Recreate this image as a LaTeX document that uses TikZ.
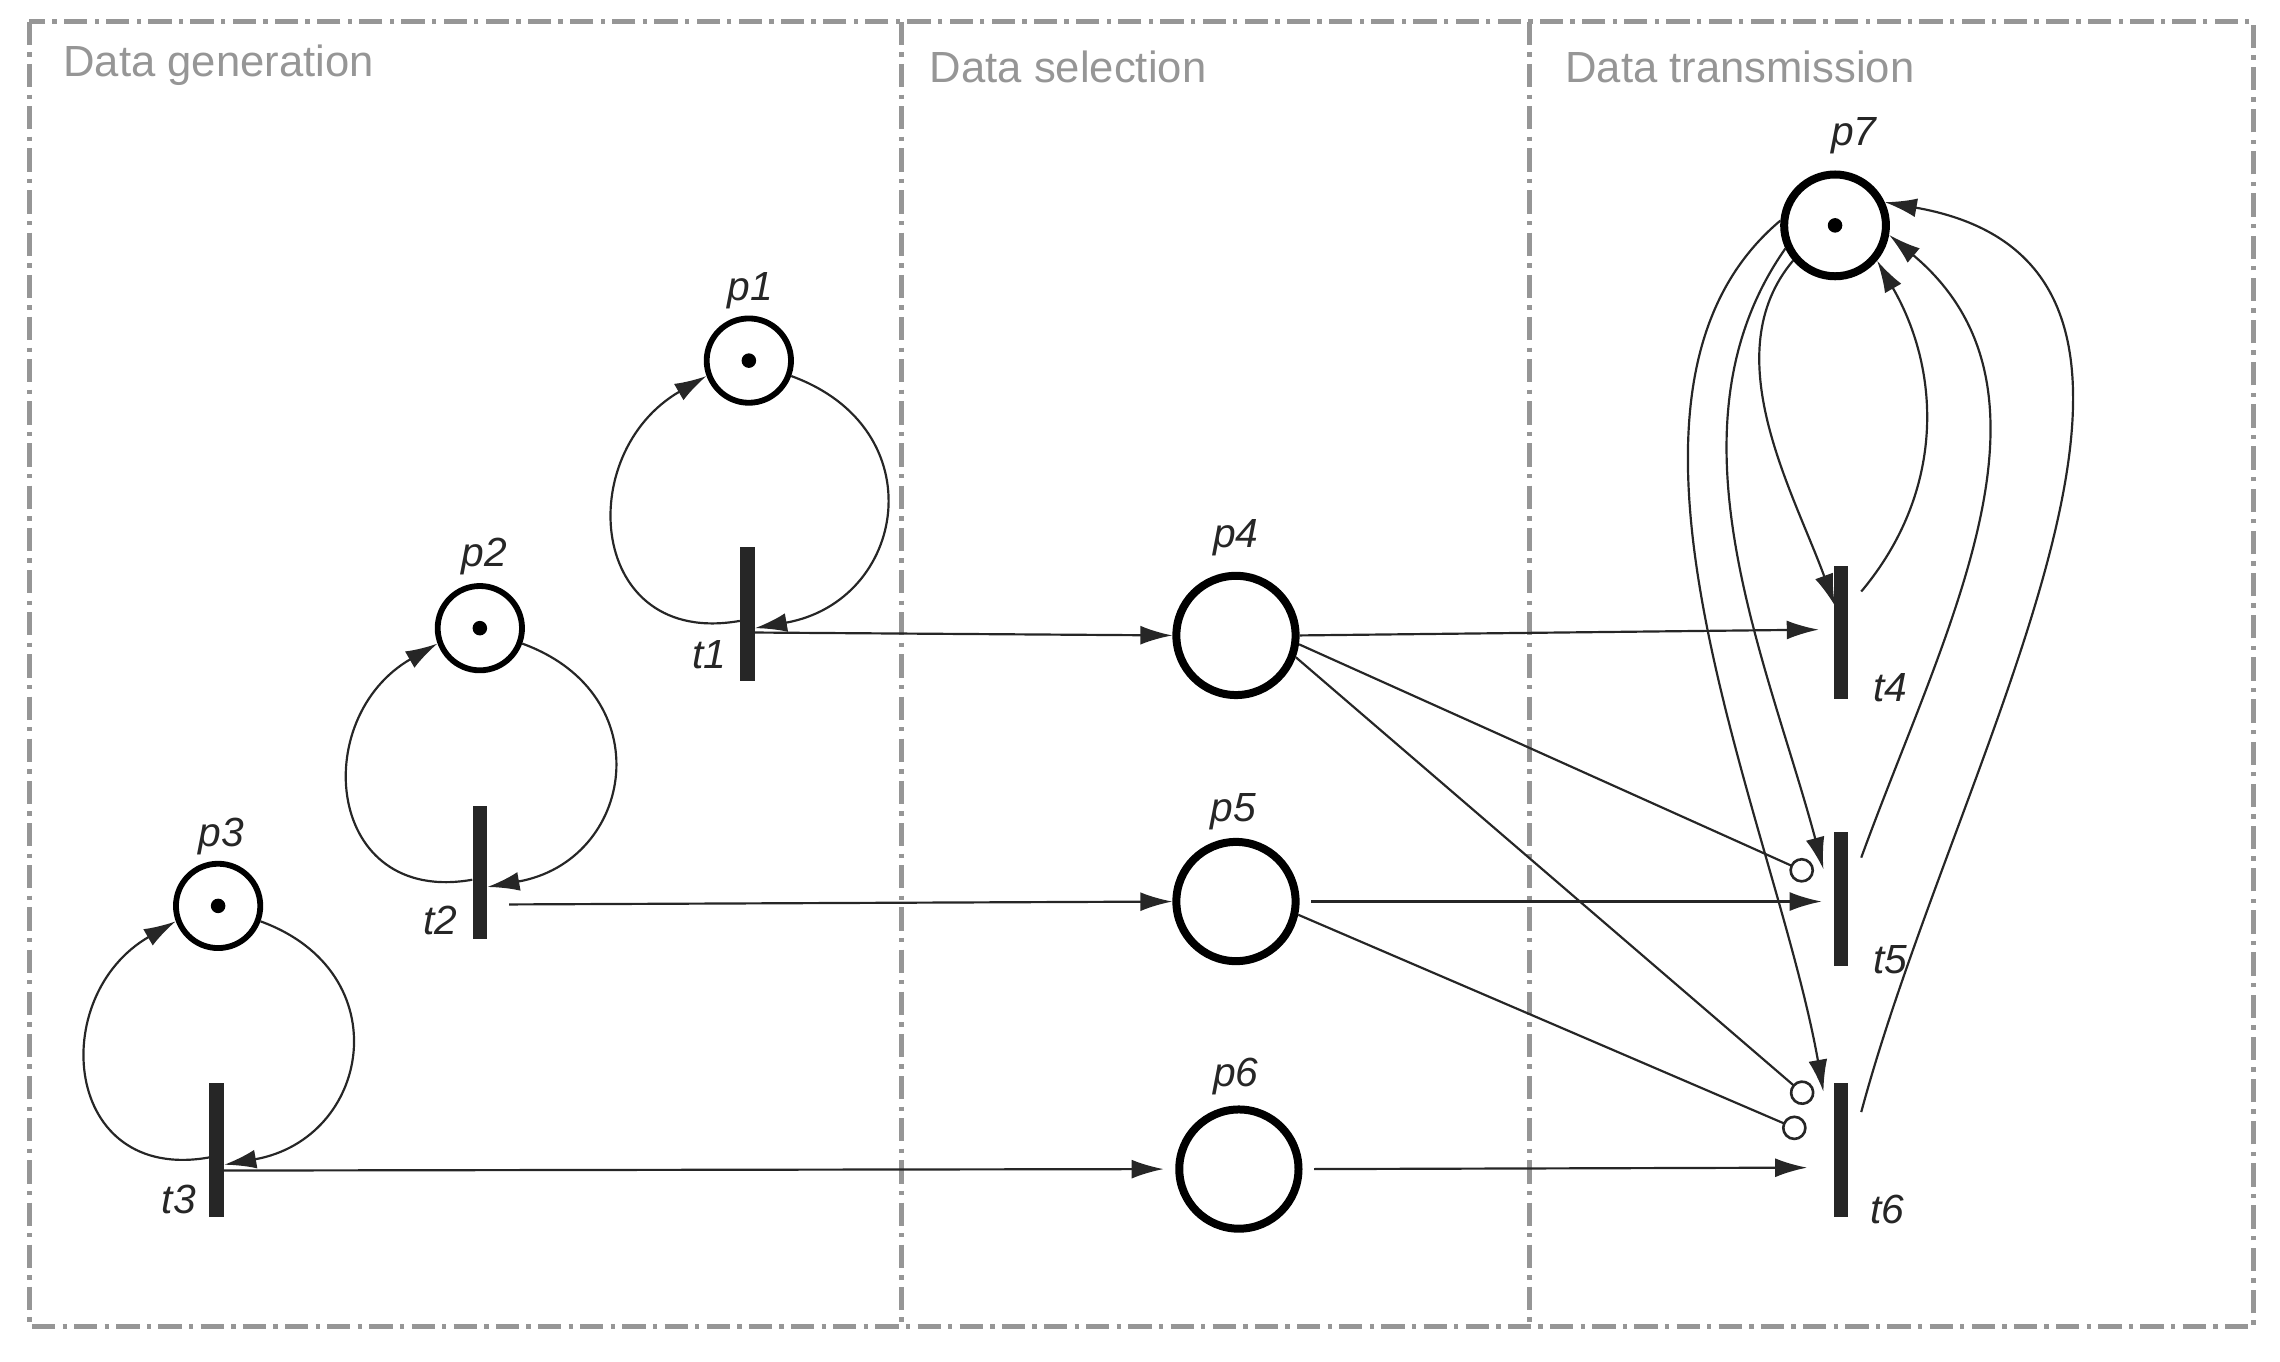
\documentclass[tikz,border=0pt]{standalone}
\usepackage{fontspec}
\setmainfont{Liberation Sans}
\usetikzlibrary{arrows.meta}
\definecolor{bord}{RGB}{150,150,150}
\begin{document}
\begin{tikzpicture}[x=1pt,y=1pt,
  place/.style={circle,draw,line width=4pt,minimum size=58pt,inner sep=0},
  bigplace/.style={circle,draw,line width=5.5pt,minimum size=82pt,inner sep=0},
  trans/.style={rectangle,fill=black!85,minimum width=10pt,minimum height=92pt,inner sep=0},
  tok/.style={circle,fill=black,minimum size=10pt,inner sep=0},
  lab/.style={font=\fontsize{28}{30}\selectfont\itshape,text=black!85},
  sec/.style={font=\fontsize{30}{32}\selectfont,text=bord,anchor=west},
  arc/.style={line width=1.5pt,draw=black!85,-{Latex[length=22pt,width=13pt]}},
  inh/.style={line width=1.5pt,draw=black!85,-{Circle[open,length=17pt,line width=1.8pt]}},
  frame/.style={draw=bord,line width=3.5pt,dash pattern=on 16pt off 5pt on 3pt off 5pt}]
\useasboundingbox (0,0) rectangle (1568,-936);
\draw[frame] (20,-15) rectangle (1550,-912);
\draw[frame] (620,-15) -- (620,-912);
\draw[frame] (1052,-15) -- (1052,-912);
\node[sec] at (40,-45) {Data generation};
\node[sec] at (636,-46) {Data selection};
\node[sec] at (1073,-46) {Data transmission};
% places
\node[place] (p1) at (515,-248) {}; \node[tok] at (p1) {};
\node[place] (p2) at (330,-432) {}; \node[tok] at (p2) {};
\node[place] (p3) at (150,-623) {}; \node[tok] at (p3) {};
\node[bigplace] (p4) at (850,-437) {};
\node[bigplace] (p5) at (850,-620) {};
\node[bigplace] (p6) at (852,-804) {};
\node[circle,draw,line width=5.5pt,minimum size=70pt,inner sep=0] (p7) at (1262,-155) {}; \node[tok] at (p7) {};
\node[lab] at (516,-200) {p1};
\node[lab] at (333,-383) {p2};
\node[lab] at (152,-575) {p3};
\node[lab] at (850,-370) {p4};
\node[lab] at (848,-558) {p5};
\node[lab] at (850,-740) {p6};
\node[lab] at (1275,-93) {p7};
% transitions
\node[trans] (t1) at (514,-422) {};
\node[trans] (t2) at (330,-600) {};
\node[trans] (t3) at (149,-791) {};
\node[trans] (t4) at (1266,-435) {};
\node[trans] (t5) at (1266,-618) {};
\node[trans] (t6) at (1266,-791) {};
\node[lab] at (488,-450) {t1};
\node[lab] at (303,-633) {t2};
\node[lab] at (123,-825) {t3};
\node[lab] at (1300,-473) {t4};
\node[lab] at (1300,-660) {t5};
\node[lab] at (1298,-832) {t6};
% loops
\foreach \p/\t in {p1/t1,p2/t2,p3/t3}{
  \draw[arc] (\p.-20) to[out=-20,in=10,looseness=1.55] ([yshift=-10pt]\t.east);
  \draw[arc] ([yshift=-5pt]\t.west) to[out=190,in=210,looseness=1.6] (\p.200);
}
% horizontal
\draw[arc] ([yshift=-13pt]t1.east) -- (p4.west);
\draw[arc] ([yshift=-22pt,xshift=15pt]t2.east) -- (p5.west);
\draw[arc] ([yshift=-14pt]t3.east) -- ([xshift=-8pt]p6.west);
\draw[arc] (p4.east) -- ([xshift=-10pt,yshift=2pt]t4.west);
\draw[arc] ([xshift=8pt]p5.east) -- ([xshift=-8pt,yshift=-2pt]t5.west);
\draw[arc] ([xshift=8pt]p6.east) -- ([xshift=-18pt,yshift=-12pt]t6.west);
% inhibitors
\draw[inh] (p4.-8) -- ([xshift=-14pt,yshift=16pt]t5.west);
\draw[inh] (p4.-20) -- ([xshift=-15pt,yshift=34pt]t6.west);
\draw[inh] (p5.-12) -- ([xshift=-19pt,yshift=12pt]t6.west);
% p7 arcs
\draw[arc] (p7.220) to[out=230,in=110,looseness=0.9] ([xshift=-4pt,yshift=-28pt]t4.north);
\draw[arc] (p7.205) to[out=235,in=105,looseness=0.9] ([xshift=-12pt,yshift=-26pt]t5.north);
\draw[arc] (p7.175) to[out=220,in=100,looseness=0.8] ([xshift=-12pt,yshift=-6pt]t6.north);
\draw[arc] ([xshift=14pt,yshift=-18pt]t4.north) to[out=50,in=-60,looseness=1] (p7.-40);
\draw[arc] ([xshift=14pt,yshift=-18pt]t5.north) to[out=70,in=-40,looseness=1] (p7.-10);
\draw[arc] ([xshift=14pt,yshift=-20pt]t6.north) to[out=75,in=-10,looseness=1.05] (p7.25);
\end{tikzpicture}
\end{document}
